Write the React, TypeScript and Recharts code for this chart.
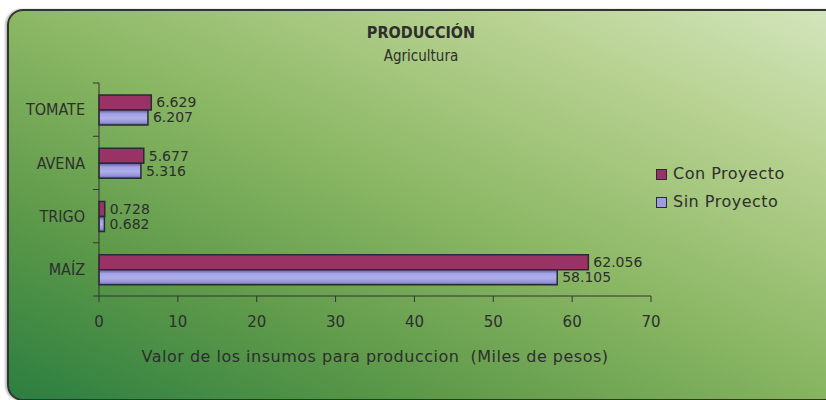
import React from 'react';
import { BarChart, Bar, XAxis, YAxis, LabelList } from 'recharts';

const cultivos = ['TOMATE', 'AVENA', 'TRIGO', 'MAÍZ'];
const conProyecto = [6.629, 5.677, 0.728, 62.056];
const sinProyecto = [6.207, 5.316, 0.682, 58.105];
const xTicks = [0, 10, 20, 30, 40, 50, 60, 70];
const seriesNames = ['Con Proyecto', 'Sin Proyecto'];

const data = cultivos.map((name, i) => ({ name, con: conProyecto[i], sin: sinProyecto[i] }));

const FONT = '"DejaVu Sans", sans-serif';
const NARROW = '"DejaVu Sans Condensed", "Liberation Sans Narrow", "DejaVu Sans", sans-serif';
const TEXT = '#2e2e2e';
const TICK_GAP = 14;

// category labels, with the little tick marks sitting between the bands
const CatTick = (props: any) => {
  const { x, y, payload, index, visibleTicksCount } = props;
  const half = payload && payload.offset ? payload.offset : 26.7;
  const ax = x + TICK_GAP;
  const last = index === (visibleTicksCount ?? cultivos.length) - 1;
  return (
    <g>
      <line x1={ax - 6} x2={ax} y1={y - half} y2={y - half} stroke="#333" />
      {last && <line x1={ax - 6} x2={ax} y1={y + half} y2={y + half} stroke="#333" />}
      <text x={x} y={y} dy="0.36em" textAnchor="end" fill={TEXT} fontSize={16} fontFamily={NARROW}>
        {payload.value}
      </text>
    </g>
  );
};

const fmt = (v: any) => Number(v).toFixed(3);

export default function App() {
  return (
    <div style={{ position: 'absolute', left: 0, top: 0, width: 826, height: 400, overflow: 'hidden', background: '#fff', fontFamily: FONT }}>
      <div
        style={{
          position: 'absolute',
          left: 7,
          top: 9,
          width: 880,
          height: 388,
          border: '2px solid #333',
          borderRadius: 16,
          boxShadow: '-2px 0 2px rgba(0,0,0,0.25)',
          background: 'linear-gradient(to top right, #2c7e40 0%, #5e9a4a 25%, #8cb865 50%, #b5d08e 75%, #d8e8c4 100%)',
        }}
      />
      <div style={{ position: 'absolute', left: 0, width: 842, top: 23, textAlign: 'center', fontWeight: 'bold', fontSize: 16, color: TEXT, fontFamily: NARROW }}>
        PRODUCCIÓN
      </div>
      <div style={{ position: 'absolute', left: 0, width: 842, top: 47, textAlign: 'center', fontSize: 15, color: TEXT, fontFamily: NARROW }}>
        Agricultura
      </div>

      <div style={{ position: 'absolute', left: 0, top: 0 }}>
        <BarChart
          width={826}
          height={400}
          data={data}
          layout="vertical"
          margin={{ top: 83, right: 175, bottom: 0, left: 0 }}
          barSize={15}
          barGap={0}
        >
          <defs>
            <linearGradient id="sinGrad" x1="0" y1="0" x2="0" y2="1">
              <stop offset="0%" stopColor="#5656a6" />
              <stop offset="25%" stopColor="#a2a2e2" />
              <stop offset="55%" stopColor="#aeaeec" />
              <stop offset="85%" stopColor="#9090d6" />
              <stop offset="100%" stopColor="#5656a6" />
            </linearGradient>
          </defs>
          <XAxis
            type="number"
            domain={[0, 70]}
            ticks={xTicks}
            interval={0}
            height={104}
            tickSize={6}
            tickMargin={14}
            stroke="#333"
            tick={{ fill: TEXT, fontSize: 15, fontFamily: FONT }}
            label={{
              value: 'Valor de los insumos para produccion\u00a0\u00a0(Miles de pesos)',
              position: 'insideBottom',
              offset: 38,
              fill: TEXT,
              fontSize: 16,
              fontFamily: FONT,
              letterSpacing: 0.5,
            }}
          />
          <YAxis
            type="category"
            dataKey="name"
            width={99}
            stroke="#333"
            tickLine={false}
            tickSize={0}
            tickMargin={TICK_GAP}
            tick={<CatTick />}
          />
          <Bar dataKey="con" name={seriesNames[0]} fill="#993366" stroke="#2a2a36" strokeWidth={1.5} isAnimationActive={false}>
            <LabelList dataKey="con" position="right" offset={5} formatter={fmt} fill={TEXT} fontSize={14} fontFamily={FONT} />
          </Bar>
          <Bar dataKey="sin" name={seriesNames[1]} fill="url(#sinGrad)" stroke="#2a2a36" strokeWidth={1.5} isAnimationActive={false}>
            <LabelList dataKey="sin" position="right" offset={5} formatter={fmt} fill={TEXT} fontSize={14} fontFamily={FONT} />
          </Bar>
        </BarChart>
      </div>

      <div style={{ position: 'absolute', left: 656, top: 160, fontSize: 16, letterSpacing: 0.5, color: TEXT, lineHeight: '28px' }}>
        {seriesNames.map((n, i) => (
          <div key={n} style={{ display: 'flex', alignItems: 'center' }}>
            <span
              style={{
                display: 'inline-block',
                width: 9,
                height: 9,
                marginRight: 6,
                border: '1.5px solid #2a2a36',
                background: i === 0 ? '#993366' : '#9c9ce0',
              }}
            />
            {n}
          </div>
        ))}
      </div>
    </div>
  );
}
